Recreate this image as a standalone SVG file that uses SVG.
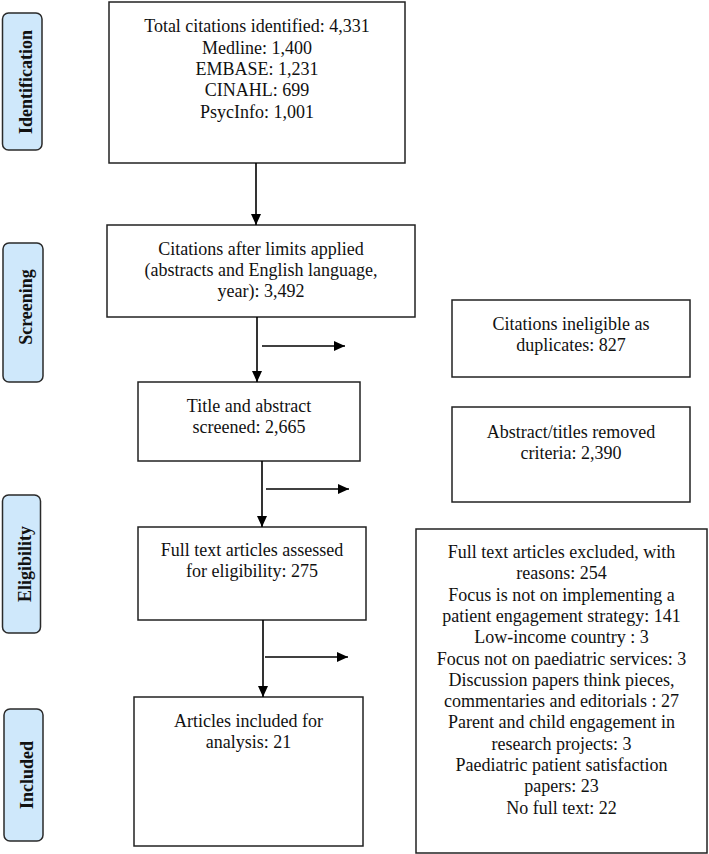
<svg xmlns="http://www.w3.org/2000/svg" width="709" height="854" viewBox="0 0 709 854">
<defs>
<style>
.box{fill:#fff;stroke:#222;stroke-width:1.5}
.phase{fill:#cfe8fb;stroke:#2a2a2a;stroke-width:1.5}
text{font-family:'Liberation Serif','Times New Roman',Times,serif;font-size:18px;fill:#111;text-anchor:middle}
.pt{font-weight:bold}
.c{stroke:#000;stroke-width:1.6;fill:none}
</style>
<marker id="ah" markerUnits="userSpaceOnUse" markerWidth="11" markerHeight="10" refX="11" refY="5" orient="auto">
<path d="M0,0 L11,5 L0,10 Z" fill="#000"/>
</marker>
</defs>
<rect width="709" height="854" fill="#fff"/>
<g font-family="Liberation Serif, Times New Roman, serif" font-size="18">
<g id="phase-identification">
<rect class="phase" x="2.5" y="13" width="39.5" height="137" rx="6"/>
<text class="pt" transform="translate(32,82) rotate(-90)">Identification</text>
</g>
<g id="phase-screening">
<rect class="phase" x="3" y="243" width="40" height="139" rx="6"/>
<text class="pt" transform="translate(32,307) rotate(-90)">Screening</text>
</g>
<g id="phase-eligibility">
<rect class="phase" x="2.5" y="495" width="38" height="138" rx="6"/>
<text class="pt" transform="translate(31,564) rotate(-90)">Eligibility</text>
</g>
<g id="phase-included">
<rect class="phase" x="4" y="709" width="39" height="132" rx="6"/>
<text class="pt" transform="translate(33,775) rotate(-90)">Included</text>
</g>

<g id="n-identified">
<rect class="box" x="109" y="2" width="296" height="161"/>
<text x="257" y="32">Total citations identified: 4,331</text>
<text x="257" y="53.5">Medline: 1,400</text>
<text x="257" y="75">EMBASE: 1,231</text>
<text x="257" y="96">CINAHL: 699</text>
<text x="257" y="117.5">PsycInfo: 1,001</text>
</g>
<g id="n-limits">
<rect class="box" x="107" y="225" width="308" height="92"/>
<text x="261" y="255">Citations after limits applied</text>
<text x="261" y="276">(abstracts and English language,</text>
<text x="261" y="297">year): 3,492</text>
</g>
<g id="n-screened">
<rect class="box" x="138" y="382" width="222" height="79"/>
<text x="249" y="412">Title and abstract</text>
<text x="249" y="433">screened: 2,665</text>
</g>
<g id="n-fulltext">
<rect class="box" x="138" y="527" width="228" height="93"/>
<text x="252" y="556">Full text articles assessed</text>
<text x="252" y="577">for eligibility: 275</text>
</g>
<g id="n-included">
<rect class="box" x="134" y="697" width="229" height="149"/>
<text x="248.5" y="727">Articles included for</text>
<text x="248.5" y="748">analysis: 21</text>
</g>
<g id="n-duplicates">
<rect class="box" x="452" y="300" width="238" height="77"/>
<text x="571" y="330">Citations ineligible as</text>
<text x="571" y="351">duplicates: 827</text>
</g>
<g id="n-removed">
<rect class="box" x="452" y="407" width="238" height="95"/>
<text x="571" y="438">Abstract/titles removed</text>
<text x="571" y="459">criteria: 2,390</text>
</g>
<g id="n-excluded">
<rect class="box" x="416" y="529" width="291" height="324"/>
<text x="561.5" y="558">Full text articles excluded, with</text>
<text x="561.5" y="579.3">reasons: 254</text>
<text x="561.5" y="600.6">Focus is not on implementing a</text>
<text x="561.5" y="621.9">patient engagement strategy: 141</text>
<text x="561.5" y="643.2">Low-income country : 3</text>
<text x="561.5" y="664.5">Focus not on paediatric services: 3</text>
<text x="561.5" y="685.8">Discussion papers think pieces,</text>
<text x="561.5" y="707.1">commentaries and editorials : 27</text>
<text x="561.5" y="728.4">Parent and child engagement in</text>
<text x="561.5" y="749.7">research projects: 3</text>
<text x="561.5" y="771">Paediatric patient satisfaction</text>
<text x="561.5" y="792.3">papers: 23</text>
<text x="561.5" y="813.6">No full text: 22</text>
</g>
</g>
<g id="connectors">
<line class="c" x1="256" y1="163" x2="256" y2="225" marker-end="url(#ah)"/>
<line class="c" x1="257" y1="317" x2="257" y2="382" marker-end="url(#ah)"/>
<line class="c" x1="262" y1="461" x2="262" y2="527" marker-end="url(#ah)"/>
<line class="c" x1="263" y1="620" x2="263" y2="697" marker-end="url(#ah)"/>
<line class="c" x1="262" y1="346" x2="345" y2="346" marker-end="url(#ah)"/>
<line class="c" x1="266" y1="489" x2="349" y2="489" marker-end="url(#ah)"/>
<line class="c" x1="265" y1="657" x2="348" y2="657" marker-end="url(#ah)"/>
</g>
</svg>
